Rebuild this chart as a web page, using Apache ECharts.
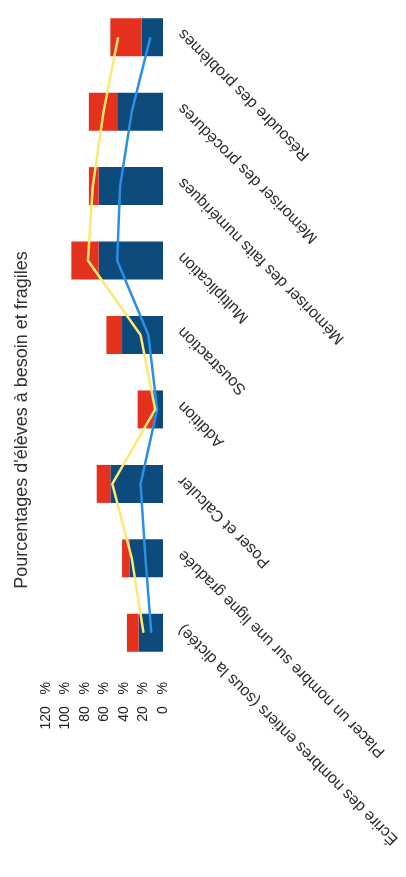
<!DOCTYPE html>
<html>
<head>
<meta charset="utf-8">
<script src="https://cdn.jsdelivr.net/npm/echarts@6/dist/echarts.min.js"></script>
<style>
html,body{margin:0;padding:0;background:#fff;}
#c{width:406px;height:877px;}
</style>
</head>
<body>
<div id="c"></div>
<script>
var categories = [
  "Écrire des nombres entiers (sous la dictée)",
  "Placer un nombre sur une ligne graduée",
  "Poser et Calculer",
  "Addition",
  "Soustraction",
  "Multiplication",
  "Mémoriser des faits numériques",
  "Mémoriser des procédures",
  "Résoudre des problèmes"
];
var besoin = [25, 34, 54, 10, 42, 66, 66, 47, 22];
var fragiles = [12, 8, 14, 16, 16, 28, 10, 29, 32];
var lineBesoin = [12, 18, 23, 6, 15, 47, 44, 32, 13];
var lineTotal = [20, 32, 52, 8, 23, 77, 72, 61, 46];
var valueTicks = [0, 20, 40, 60, 80, 100, 120];
var title = "Pourcentages d'élèves à besoin et fragiles";

var font = "'Liberation Sans', Arial, sans-serif";
var chart = echarts.init(document.getElementById('c'));
chart.setOption({
  backgroundColor: '#ffffff',
  animation: false,
  textStyle: { fontFamily: font },
  graphic: [{
    type: 'text',
    x: 22, y: 420,
    rotation: Math.PI / 2,
    style: {
      text: title,
      font: '18px ' + font,
      fill: '#333333',
      textAlign: 'center',
      textVerticalAlign: 'middle'
    }
  }],
  grid: { left: 46, right: 243, top: -11, bottom: 207, containLabel: false },
  xAxis: {
    type: 'value',
    inverse: true,
    min: valueTicks[0],
    max: valueTicks[valueTicks.length - 1],
    interval: 20,
    position: 'bottom',
    axisLine: { show: false },
    axisTick: { show: false },
    splitLine: { show: false },
    axisLabel: {
      rotate: 90,
      margin: 12,
      fontSize: 14,
      color: '#222222',
      fontFamily: font,
      formatter: function (v) { return v + '   %'; }
    }
  },
  yAxis: {
    type: 'category',
    position: 'right',
    data: categories,
    axisLine: { show: false },
    axisTick: { show: false },
    splitLine: { show: false },
    axisLabel: {
      rotate: 135,
      margin: 12,
      fontSize: 16,
      color: '#2a2a2a',
      fontFamily: font,
      verticalAlign: 'top',
      interval: 0
    }
  },
  series: [
    {
      name: 'À besoin',
      type: 'bar',
      stack: 'total',
      barWidth: 38,
      data: besoin,
      itemStyle: { color: '#0c4b7c' }
    },
    {
      name: 'Fragiles',
      type: 'bar',
      stack: 'total',
      barWidth: 38,
      data: fragiles,
      itemStyle: { color: '#e5321f' }
    },
    {
      name: 'Besoin (ligne)',
      type: 'line',
      data: lineBesoin,
      symbol: 'none',
      z: 5,
      lineStyle: { color: '#2b8fe6', width: 2.5 }
    },
    {
      name: 'Total (ligne)',
      type: 'line',
      data: lineTotal,
      symbol: 'none',
      z: 5,
      lineStyle: { color: '#fde870', width: 2.5 }
    }
  ]
});
</script>
</body>
</html>
